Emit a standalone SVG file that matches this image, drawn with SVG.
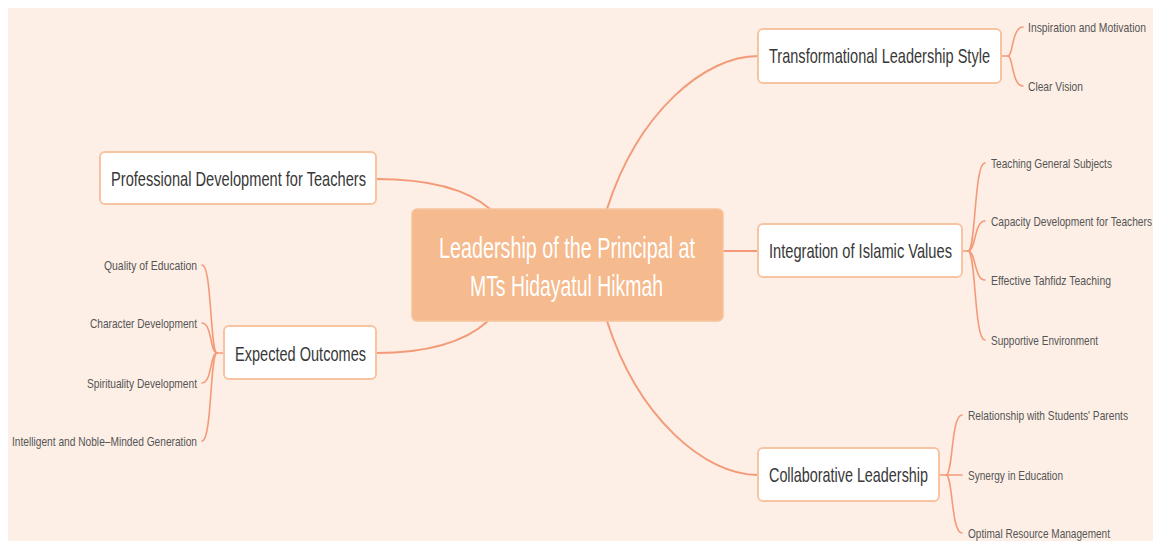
<svg xmlns="http://www.w3.org/2000/svg" width="1153" height="541" viewBox="0 0 1153 541">
  <style>
    .bg { fill: #FDEFE6; }
    .link { fill: none; stroke: #F39B79; stroke-width: 2; stroke-linecap: round; }
    .sub-link { fill: none; stroke: #F39B79; stroke-width: 1.6; stroke-linecap: round; }
    .root-box { fill: #F5BA8D; stroke: #F7C39C; stroke-width: 1.5; }
    .topic-box { fill: #FFFFFF; stroke: #F8C3A0; stroke-width: 2; }
    .root-text { font-family: "Liberation Sans Narrow", "Liberation Sans", Arial, sans-serif; font-size: 29px; fill: #FFFFFF; }
    .topic-text { font-family: "Liberation Sans Narrow", "Liberation Sans", Arial, sans-serif; font-size: 21px; fill: #383838; }
    .leaf-text { font-family: "Liberation Sans Narrow", "Liberation Sans", Arial, sans-serif; font-size: 13.5px; fill: #555555; }
  </style>

  <rect class="bg" x="8" y="8" width="1145" height="533"/>

  <!-- connectors -->
  <g id="connectors">
    <!-- central topic to main branches -->
    <path class="link" d="M607,209 C638,112 705,56 758,56"/>
    <path class="link" d="M722,251 H758"/>
    <path class="link" d="M607,321 C638,418 705,475 758,475"/>
    <path class="link" d="M376,179 C430,179 468,190 490,209"/>
    <path class="link" d="M376,353 C430,353 466,341 488,321"/>

    <!-- Transformational Leadership Style children -->
    <path class="sub-link" d="M1001,56 H1008"/>
    <path class="sub-link" d="M1008,56 C1013,56 1012,27 1023,27"/>
    <path class="sub-link" d="M1008,56 C1013,56 1012,86 1023,86"/>

    <!-- Integration of Islamic Values children -->
    <path class="sub-link" d="M962,251 H968"/>
    <path class="sub-link" d="M968,251 C976,251 974,163 985,163"/>
    <path class="sub-link" d="M968,251 C976,251 974,221 985,221"/>
    <path class="sub-link" d="M968,251 C976,251 974,280 985,280"/>
    <path class="sub-link" d="M968,251 C976,251 974,340 985,340"/>

    <!-- Collaborative Leadership children -->
    <path class="sub-link" d="M939,475 H946"/>
    <path class="sub-link" d="M946,475 C953,475 951,415 962,415"/>
    <path class="sub-link" d="M946,475 H962"/>
    <path class="sub-link" d="M946,475 C953,475 951,533 962,533"/>

    <!-- Expected Outcomes children -->
    <path class="sub-link" d="M224,353 H217"/>
    <path class="sub-link" d="M217,353 C210,353 212,265 202,265"/>
    <path class="sub-link" d="M217,353 C210,353 212,323 202,323"/>
    <path class="sub-link" d="M217,353 C210,353 212,383 202,383"/>
    <path class="sub-link" d="M217,353 C210,353 212,441 202,441"/>
  </g>

  <!-- central topic -->
  <g id="root">
    <rect class="root-box" x="412" y="209" width="311" height="112" rx="5"/>
    <text class="root-text" x="439" y="258" textLength="256" lengthAdjust="spacingAndGlyphs">Leadership of the Principal at</text>
    <text class="root-text" x="470" y="296" textLength="193" lengthAdjust="spacingAndGlyphs">MTs Hidayatul Hikmah</text>
  </g>

  <!-- right branches -->
  <g id="transformational">
    <rect class="topic-box" x="758" y="29" width="243" height="54" rx="5"/>
    <text class="topic-text" x="769" y="63" textLength="221" lengthAdjust="spacingAndGlyphs">Transformational Leadership Style</text>
    <text class="leaf-text" x="1028" y="32" textLength="118" lengthAdjust="spacingAndGlyphs">Inspiration and Motivation</text>
    <text class="leaf-text" x="1028" y="91" textLength="55" lengthAdjust="spacingAndGlyphs">Clear Vision</text>
  </g>

  <g id="integration">
    <rect class="topic-box" x="758" y="224" width="204" height="53" rx="5"/>
    <text class="topic-text" x="769" y="258" textLength="183" lengthAdjust="spacingAndGlyphs">Integration of Islamic Values</text>
    <text class="leaf-text" x="991" y="168" textLength="121" lengthAdjust="spacingAndGlyphs">Teaching General Subjects</text>
    <text class="leaf-text" x="991" y="226" textLength="161" lengthAdjust="spacingAndGlyphs">Capacity Development for Teachers</text>
    <text class="leaf-text" x="991" y="285" textLength="120" lengthAdjust="spacingAndGlyphs">Effective Tahfidz Teaching</text>
    <text class="leaf-text" x="991" y="345" textLength="107" lengthAdjust="spacingAndGlyphs">Supportive Environment</text>
  </g>

  <g id="collaborative">
    <rect class="topic-box" x="758" y="448" width="181" height="53" rx="5"/>
    <text class="topic-text" x="769" y="482" textLength="159" lengthAdjust="spacingAndGlyphs">Collaborative Leadership</text>
    <text class="leaf-text" x="968" y="420" textLength="160" lengthAdjust="spacingAndGlyphs">Relationship with Students' Parents</text>
    <text class="leaf-text" x="968" y="480" textLength="95" lengthAdjust="spacingAndGlyphs">Synergy in Education</text>
    <text class="leaf-text" x="968" y="538" textLength="142" lengthAdjust="spacingAndGlyphs">Optimal Resource Management</text>
  </g>

  <!-- left branches -->
  <g id="professional">
    <rect class="topic-box" x="100" y="152" width="276" height="52" rx="5"/>
    <text class="topic-text" x="111" y="186" textLength="255" lengthAdjust="spacingAndGlyphs">Professional Development for Teachers</text>
  </g>

  <g id="expected">
    <rect class="topic-box" x="224" y="326" width="152" height="53" rx="5"/>
    <text class="topic-text" x="235" y="361" textLength="131" lengthAdjust="spacingAndGlyphs">Expected Outcomes</text>
    <text class="leaf-text" x="104" y="270" textLength="93" lengthAdjust="spacingAndGlyphs">Quality of Education</text>
    <text class="leaf-text" x="90" y="328" textLength="107" lengthAdjust="spacingAndGlyphs">Character Development</text>
    <text class="leaf-text" x="87" y="388" textLength="110" lengthAdjust="spacingAndGlyphs">Spirituality Development</text>
    <text class="leaf-text" x="12" y="446" textLength="185" lengthAdjust="spacingAndGlyphs">Intelligent and Noble–Minded Generation</text>
  </g>
</svg>
